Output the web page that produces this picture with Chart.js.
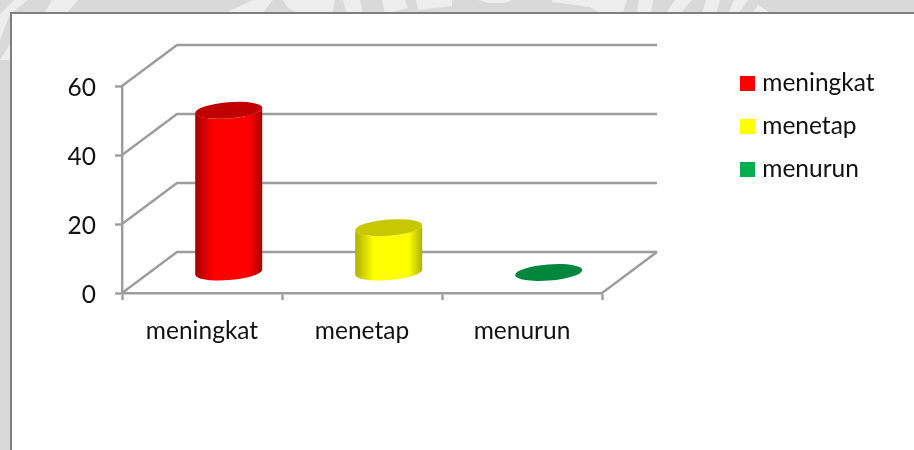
<!DOCTYPE html>
<html><head><meta charset="utf-8">
<style>
html,body{margin:0;padding:0;background:#d9d9d9;overflow:hidden}
#wrap{position:relative;width:914px;height:450px;overflow:hidden}
#wm{position:absolute;left:0;top:0}
#frame{position:absolute;left:10px;top:12px;width:920px;height:460px;background:#fff;border:2px solid #7f7f7f;box-sizing:border-box}
#c{position:absolute;left:0;top:0}
</style></head><body>
<div id="wrap">
<svg id="wm" width="914" height="60" fill="#eeeeee">
<polygon points="0,14 14,0 28,0 10,14 0,40"/><polygon points="0,60 10,44 10,60"/>
<polygon points="52,0 78,0 66,14 44,14"/>
<polygon points="223,14 253,0 273,0 262,14"/>
<polygon points="283,0 335,0 332,14 300,14 288,8"/>
<polygon points="343,0 360,0 363,14 347,14"/>
<polygon points="382,0 405,0 408,8 385,14"/>
<polygon points="416,0 452,0 452,6 418,10"/>
<polygon points="478,0 512,0 505,3 488,3"/>
<polygon points="552,0 627,0 622,14 602,14 590,7 552,2"/>
<polygon points="639,0 653,0 651,14 637,14"/>
<polygon points="675,0 692,0 680,14 665,14"/>
<polygon points="706,0 720,0 716,14 702,14"/>
<polygon points="734,0 748,0 738,14 728,14"/>
<polygon points="752,14 758,5 772,14"/>
</svg>
<div id="frame"></div>
<canvas id="c" width="914" height="450"></canvas>
</div>
<script src="https://cdn.jsdelivr.net/npm/chart.js@4"></script>
<script>
const categories = ["meningkat", "menetap", "menurun"];
const values = [47, 13, 0];
const colors = ["#ff0000", "#ffff00", "#00b050"];
const sideEdge = ["#a80000", "#b0b000", "#006e32"];
const capColors = ["#c00000", "#c8c800", "#00863d"];
const yTicks = [0, 20, 40, 60];

const DX = 55, DY = 41, FONT = "Lato, sans-serif", GRID = "#9c9c9c", INK = "#111111";

function swatch(color) {
  const s = document.createElement("canvas");
  s.width = 15; s.height = 15;
  const g = s.getContext("2d");
  g.fillStyle = color;
  g.fillRect(0, 0, 15, 15);
  return s;
}
const swatches = colors.map(swatch);

const cylinder3d = {
  id: "cylinder3d",
  beforeLayout(chart) {
    const l = chart.legend;
    if (!l._wrapped) {
      const f = l.fit;
      l.fit = function () { f.call(this); this.width = 0; };
      l._wrapped = true;
    }
  },
  afterLayout(chart) {
    const l = chart.legend;
    l.left = 726.5; l.right = 905; l.top = 52.5; l.bottom = 300; l.width = 178; l.height = 247;
  },
  beforeDatasetsDraw(chart) {
    const ctx = chart.ctx, x = chart.scales.x, y = chart.scales.y;
    const L = x.left, R = x.right, B = y.bottom;
    ctx.save();
    ctx.strokeStyle = GRID; ctx.lineWidth = 2.4; ctx.lineJoin = "round";
    yTicks.forEach(v => {
      const p = y.getPixelForValue(v);
      ctx.beginPath();
      ctx.moveTo(L, p); ctx.lineTo(L + DX, p - DY); ctx.lineTo(R + DX, p - DY);
      ctx.stroke();
    });
    ctx.beginPath();
    ctx.moveTo(R, B); ctx.lineTo(R + DX, B - DY);
    ctx.stroke();
    ctx.restore();
  },
  beforeDatasetDraw(chart, args) {
    const ctx = chart.ctx;
    const meta = chart.getDatasetMeta(args.index);
    const a = 33.6, b = 8.1, th = -4.55 * Math.PI / 180;
    meta.data.forEach((bar, i) => {
      const w = bar.width, cx = bar.x + DX / 2 - 0.8;
      const top = bar.y - DY / 2, bot = bar.base - DY / 2;
      ctx.save();
      if (bot - top > 1) {
        const g = ctx.createLinearGradient(cx - w / 2, 0, cx + w / 2, 0);
        g.addColorStop(0, sideEdge[i]);
        g.addColorStop(0.28, colors[i]);
        g.addColorStop(0.8, colors[i]);
        g.addColorStop(1, sideEdge[i]);
        ctx.fillStyle = g;
        const t0 = Math.atan2(-b * Math.sin(th), a * Math.cos(th));
        ctx.beginPath();
        ctx.ellipse(cx, bot, a, b, th, t0, t0 + Math.PI);
        ctx.ellipse(cx, top, a, b, th, t0 + Math.PI, t0, true);
        ctx.closePath();
        ctx.fill();
      }
      ctx.fillStyle = capColors[i];
      ctx.beginPath();
      ctx.ellipse(cx, top, a, b, th, 0, Math.PI * 2);
      ctx.fill();
      ctx.restore();
    });
    return false;
  }
};

new Chart(document.getElementById("c"), {
  type: "bar",
  plugins: [cylinder3d],
  data: {
    labels: categories,
    datasets: [{ data: values, backgroundColor: colors, barPercentage: 0.42, categoryPercentage: 1 }]
  },
  options: {
    responsive: false,
    animation: false,
    layout: { padding: { left: 60, top: 86, right: 312, bottom: 100 } },
    plugins: {
      tooltip: { enabled: false },
      title: { display: false },
      legend: {
        position: "right", align: "start",
        labels: {
          usePointStyle: true, pointStyleWidth: 5, boxHeight: 15, padding: 18.5, color: INK,
          font: { family: FONT, size: 24.5 },
          generateLabels: () => categories.map((c, i) => ({ text: c, pointStyle: swatches[i], fillStyle: colors[i], strokeStyle: colors[i], lineWidth: 0, index: i, fontColor: INK }))
        }
      }
    },
    scales: {
      x: {
        afterFit(s) { s.height = 57; },
        border: { color: GRID, width: 2.4 },
        grid: { drawOnChartArea: false, drawTicks: true, tickLength: 7, tickColor: GRID, tickWidth: 2.4 },
        ticks: { color: INK, padding: 16, maxRotation: 0, font: { family: FONT, size: 24.5 } }
      },
      y: {
        min: 0, max: 60,
        afterFit(s) { s.width = 62; },
        border: { color: GRID, width: 2.4 },
        grid: { drawOnChartArea: false, drawTicks: true, tickLength: 7, tickColor: GRID, tickWidth: 2.4 },
        ticks: { stepSize: 20, color: INK, padding: 19, labelOffset: 2, font: { family: FONT, size: 24.5 } }
      }
    }
  }
});
</script>
</body></html>
